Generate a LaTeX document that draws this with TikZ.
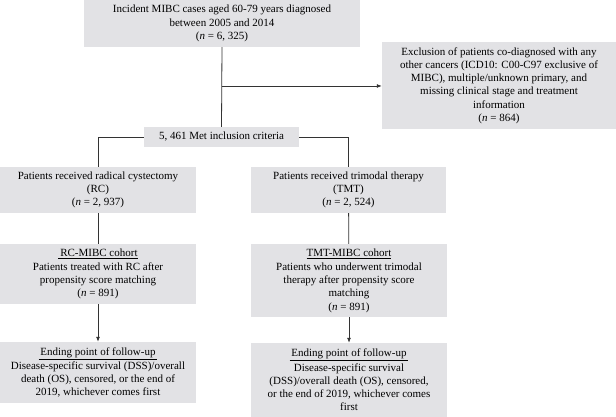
\documentclass[tikz,border=0pt]{standalone}
\usepackage{fontspec}
\setmainfont{Liberation Serif}
\usetikzlibrary{arrows.meta, positioning}
\definecolor{boxgray}{RGB}{226,226,229}
\tikzset{
  stagebox/.style={rectangle, fill=boxgray, inner sep=0pt, align=center,
    font=\fontsize{11}{13.2}\selectfont},
  link/.style={line width=0.8pt, draw=black!80},
  arr/.style={link, -{Latex[length=5pt, width=4pt]}}
}
\begin{document}
\begin{tikzpicture}[x=1pt, y=-1pt]
    \useasboundingbox (0,0) rectangle (616,417);

    %creates the screening boxes
    \node (inc) [stagebox, minimum width=276pt, minimum height=47pt] at (222,23.5)
      {Incident MIBC cases aged 60-79 years diagnosed\\between 2005 and 2014\\(\textit{n} = 6, 325)};%all cases
    \node (excl) [stagebox, minimum width=234pt, minimum height=87pt] at (499,85.5)
      {Exclusion of patients co-diagnosed with any\\other cancers (ICD10: C00-C97 exclusive of\\MIBC), multiple/unknown primary, and\\missing clinical stage and treatment\\information\\(\textit{n} = 864)};%excluded
    \node (met) [stagebox, minimum width=155pt, minimum height=20pt] at (221.5,137)
      {5, 461 Met inclusion criteria};%included

    %creates the treatment boxes
    \node (rc) [stagebox, minimum width=196pt, minimum height=46pt] at (98,190)
      {Patients received radical cystectomy\\(RC)\\(\textit{n} = 2, 937)};%RC group
    \node (tmt) [stagebox, minimum width=195pt, minimum height=46pt] at (348.5,190)
      {Patients received trimodal therapy\\(TMT)\\(\textit{n} = 2, 524)};%TMT group

    %creates the cohort boxes
    \node (rcm) [stagebox, minimum width=196pt, minimum height=60pt] at (98,274)
      {\underline{\,RC-MIBC cohort}\\[1pt]Patients treated with RC after\\propensity score matching\\(\textit{n} = 891)};%RC cohort
    \node (tmtm) [stagebox, minimum width=196pt, minimum height=73pt] at (349,280.5)
      {\underline{TMT-MIBC cohort}\\[1pt]Patients who underwent trimodal\\therapy after propensity score\\matching\\(\textit{n} = 891)};%TMT cohort

    %creates the follow-up boxes
    \node (rce) [stagebox, minimum width=196pt, minimum height=61pt] at (98,372.5)
      {\underline{\,Ending point of follow-up\,}\\[1pt]Disease-specific survival (DSS)/overall\\death (OS), censored, or the end of\\2019, whichever comes first};%RC end
    \node (tmte) [stagebox, minimum width=196pt, minimum height=74pt] at (349,380)
      {\underline{\,Ending point of follow-up\,}\\[1pt]Disease-specific survival\\(DSS)/overall death (OS), censored,\\or the end of 2019, whichever comes\\first};%TMT end

    %draws the connectors
    \coordinate (split) at (222,86);%branch to exclusion
    \draw [link] (inc.south) -- (met.north);
    \draw [arr] (split) -- (split -| excl.west);
    \draw [link] (met.west) -| (rc.north);
    \draw [link] (met.east) -| (tmt.north);
    \draw [link] (rc) -- (rcm);
    \draw [link] (tmt) -- (tmtm);
    \draw [arr] (rcm) -- (rce);
    \draw [arr] (tmtm) -- (tmte);
  \end{tikzpicture}
\end{document}
